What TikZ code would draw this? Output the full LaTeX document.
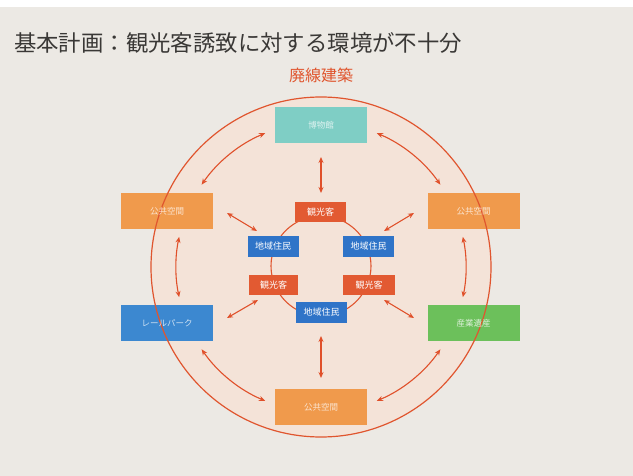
\documentclass[tikz,border=0pt]{standalone}
\usepackage{fontspec}
\setmainfont{Noto Sans CJK JP}
\usetikzlibrary{arrows.meta}
\definecolor{bgc}{HTML}{ECE9E4}
\definecolor{ringfill}{HTML}{F4E3D8}
\definecolor{ringline}{HTML}{E0552E}
\definecolor{arr}{HTML}{E0502A}
\definecolor{teal}{HTML}{7FCEC5}
\definecolor{orng}{HTML}{F09A4C}
\definecolor{blu}{HTML}{3C88D0}
\definecolor{grn}{HTML}{6CC05B}
\definecolor{ired}{HTML}{E25A32}
\definecolor{iblu}{HTML}{2F74C8}
\definecolor{titlec}{HTML}{3A3836}
\tikzset{
  outerbox/.style={minimum width=92pt,minimum height=36pt,inner sep=0pt,draw=none},
  innerbox/.style={minimum width=51pt,minimum height=20pt,inner sep=0pt,draw=none},
  outertxt/.style={text=white,text opacity=0.75,font=\fontsize{8.5}{8.5}\selectfont},
  innertxt/.style={text=white,font=\fontsize{9}{9}\selectfont},
  dbl/.style={arr,line width=1.1pt,{Stealth[length=6pt,width=5pt]}-{Stealth[length=6pt,width=5pt]}}
}
\begin{document}
\begin{tikzpicture}[x=1pt,y=-1pt]
\useasboundingbox (0,0) rectangle (633,476);
\fill[bgc] (0,0) rectangle (633,476);
\fill[white] (0,0) rectangle (633,7);
% title
\node[anchor=west,inner sep=0pt,text=titlec,font=\fontsize{22.4}{23}\selectfont] (title) at (14,43) {基本計画：観光客誘致に対する環境が不十分};
\node[inner sep=0pt,text=ringline,font=\fontsize{16}{16}\selectfont] (sub) at (321,75) {廃線建築};
% big ring
\coordinate (c) at (321,267);
\fill[ringfill] (c) circle[radius=170];
% outer boxes
\node[outerbox,fill=teal] (top) at (321,125.5) {};
\node[outerbox,fill=orng] (lt) at (167,211.5) {};
\node[outerbox,fill=orng] (rt) at (473.5,211.5) {};
\node[outerbox,fill=blu] (lb) at (167,323) {};
\node[outerbox,fill=grn] (rb) at (473.5,323.5) {};
\node[outerbox,fill=orng] (bot) at (321,407) {};
\draw[ringline,line width=1.2pt] (c) circle[radius=170];
\node[outertxt] at (top.center) {博物館};
\node[outertxt] at (lt.center) {公共空間};
\node[outertxt] at (rt.center) {公共空間};
\node[outertxt] at (lb.center) {レールパーク};
\node[outertxt] at (rb.center) {産業遺産};
\node[outertxt] at (bot.center) {公共空間};
% inner ring
\draw[ringline,line width=1.1pt] (c) ++(0,-1) circle[radius=50];
% inner boxes
\node[innerbox,fill=ired,innertxt] (it) at (320.5,212) {観光客};
\node[innerbox,fill=iblu,innertxt,minimum height=21pt] (il) at (273,246.5) {地域住民};
\node[innerbox,fill=iblu,innertxt,minimum height=21pt] (ir) at (368.5,246.5) {地域住民};
\node[innerbox,fill=ired,innertxt,minimum width=49pt] (kl) at (273.5,285) {観光客};
\node[innerbox,fill=ired,innertxt,minimum width=52pt] (kr) at (369,285) {観光客};
\node[innerbox,fill=iblu,innertxt,minimum height=21pt] (ib) at (321.5,312.5) {地域住民};
% arcs between outer boxes
\draw[dbl] ([shift={(-112.7:145)}]c) arc[start angle=-112.7,end angle=-145.4,radius=145];
\draw[dbl] ([shift={(-67.3:145)}]c) arc[start angle=-67.3,end angle=-34.6,radius=145];
\draw[dbl] ([shift={(-168:145)}]c) arc[start angle=-168,end angle=-192,radius=145];
\draw[dbl] ([shift={(-12:145)}]c) arc[start angle=-12,end angle=12,radius=145];
\draw[dbl] ([shift={(145.4:145)}]c) arc[start angle=145.4,end angle=112.7,radius=145];
\draw[dbl] ([shift={(34.6:145)}]c) arc[start angle=34.6,end angle=67.3,radius=145];
% vertical arrows
\coordinate (v1) at (321,157);
\coordinate (v2) at (321,193);
\coordinate (v3) at (321,336);
\coordinate (v4) at (321,378);
\draw[dbl] (v1) -- (v2);
\draw[dbl] (v3) -- (v4);
% diagonal arrows
\coordinate (d1a) at (227,213);
\coordinate (d1b) at (257,231);
\coordinate (d2a) at (414,213);
\coordinate (d2b) at (384,231);
\coordinate (d3a) at (227,318);
\coordinate (d3b) at (258,300);
\coordinate (d4a) at (414,318);
\coordinate (d4b) at (384,300);
\draw[dbl] (d1a) -- (d1b);
\draw[dbl] (d2a) -- (d2b);
\draw[dbl] (d3a) -- (d3b);
\draw[dbl] (d4a) -- (d4b);
\end{tikzpicture}
\end{document}
